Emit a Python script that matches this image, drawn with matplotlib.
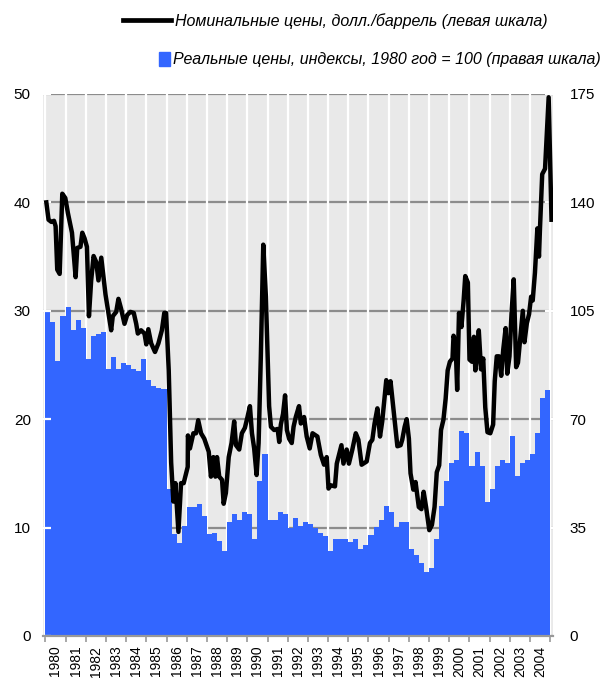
import numpy as np
import matplotlib
matplotlib.use("Agg")
import matplotlib.pyplot as plt
from matplotlib.lines import Line2D
from matplotlib.patches import Rectangle

plt.rcParams['font.family'] = ['Liberation Sans', 'DejaVu Sans']

# ____Data________________________
years = list(range(1980, 2005))

# Real prices, index 1980 = 100 (right scale), quarterly
real_index = [
    104.7, 101.5, 88.9, 103.3,   # 1980
    106.2, 98.7, 102.0, 99.6,    # 1981
    89.4, 97.0, 97.5, 98.0,      # 1982
    86.1, 90.0, 86.1, 88.2,      # 1983
    87.5, 86.1, 85.6, 89.4,      # 1984
    82.6, 80.7, 80.2, 79.8,      # 1985
    47.6, 32.8, 30.1, 35.4,      # 1986
    41.5, 41.5, 42.7, 38.9,      # 1987
    32.8, 33.4, 30.7, 27.5,      # 1988
    36.9, 39.4, 37.5, 40.0,      # 1989
    39.4, 31.3, 50.1, 58.8,      # 1990
    37.5, 37.5, 40.0, 39.4,      # 1991
    35.0, 38.0, 35.4, 36.8,      # 1992
    36.2, 34.9, 33.3, 32.3,      # 1993
    27.5, 31.3, 31.3, 31.3,      # 1994
    30.2, 31.3, 28.1, 29.4,      # 1995
    32.6, 35.2, 37.5, 42.0,      # 1996
    40.0, 35.1, 36.8, 36.8,      # 1997
    28.1, 26.0, 23.7, 20.8,      # 1998
    22.1, 31.3, 41.9, 50.1,      # 1999
    56.0, 56.8, 66.2, 65.5,      # 2000
    54.9, 59.4, 54.9, 43.3,      # 2001
    47.5, 54.9, 56.8, 56.0,      # 2002
    64.5, 51.5, 56.0, 56.8,      # 2003
    58.8, 65.5, 76.9, 79.5,      # 2004
]

# Nominal prices, USD/barrel (left scale), dates as decimal years
nominal_date = [
    1980.05, 1980.16, 1980.30, 1980.43, 1980.51, 1980.59, 1980.71, 1980.84,
    1980.99, 1981.12, 1981.32, 1981.50, 1981.58, 1981.74, 1981.83, 1981.94,
    1982.06, 1982.16, 1982.27, 1982.39, 1982.52, 1982.63, 1982.77, 1982.90,
    1982.98, 1983.10, 1983.26, 1983.34, 1983.51, 1983.62, 1983.75, 1983.92,
    1984.05, 1984.21, 1984.38, 1984.50, 1984.58, 1984.74, 1984.91, 1985.00,
    1985.10, 1985.24, 1985.43, 1985.60, 1985.77, 1985.89, 1985.98, 1986.11,
    1986.23, 1986.34, 1986.44, 1986.59, 1986.72, 1986.85, 1987.05, 1987.06,
    1987.16, 1987.33, 1987.46, 1987.57, 1987.71, 1987.87, 1988.09, 1988.20,
    1988.32, 1988.42, 1988.50, 1988.61, 1988.75, 1988.83, 1988.94, 1989.08,
    1989.22, 1989.35, 1989.44, 1989.60, 1989.73, 1989.88, 1990.01, 1990.13,
    1990.23, 1990.34, 1990.46, 1990.56, 1990.67, 1990.79, 1990.92, 1991.08,
    1991.17, 1991.33, 1991.50, 1991.58, 1991.66, 1991.77, 1991.87, 1991.96,
    1992.07, 1992.20, 1992.29, 1992.40, 1992.56, 1992.65, 1992.81, 1992.94,
    1993.09, 1993.23, 1993.47, 1993.64, 1993.80, 1993.93, 1994.02, 1994.13,
    1994.34, 1994.43, 1994.66, 1994.76, 1994.92, 1995.03, 1995.20, 1995.37,
    1995.50, 1995.66, 1995.91, 1996.07, 1996.19, 1996.30, 1996.44, 1996.57,
    1996.68, 1996.80, 1996.88, 1996.98, 1997.09, 1997.26, 1997.43, 1997.59,
    1997.67, 1997.79, 1997.89, 1998.00, 1998.08, 1998.22, 1998.33, 1998.49,
    1998.62, 1998.73, 1998.85, 1999.01, 1999.14, 1999.27, 1999.38, 1999.50,
    1999.59, 1999.71, 1999.82, 1999.92, 2000.03, 2000.16, 2000.21, 2000.31,
    2000.39, 2000.48, 2000.60, 2000.71, 2000.79, 2000.92, 2001.00, 2001.12,
    2001.22, 2001.29, 2001.37, 2001.46, 2001.57, 2001.68, 2001.78, 2001.89,
    2002.03, 2002.17, 2002.25, 2002.35, 2002.46, 2002.57, 2002.67, 2002.79,
    2002.87, 2002.98, 2003.08, 2003.19, 2003.31, 2003.40, 2003.51, 2003.64,
    2003.72, 2003.84, 2003.95, 2004.05, 2004.13, 2004.24, 2004.36, 2004.44,
    2004.49, 2004.60, 2004.74, 2004.92, 2005.06,
]
nominal_price = [
    40.0, 38.4, 38.2, 38.3, 37.8, 33.8, 33.4, 40.8,
    40.4, 39.0, 37.2, 33.1, 35.8, 35.9, 37.2, 36.7,
    35.9, 29.5, 32.8, 35.05, 34.5, 32.8, 34.9, 32.8,
    31.5, 30.1, 28.2, 29.5, 29.9, 31.1, 30.2, 28.8,
    29.6, 29.9, 29.8, 28.8, 27.9, 28.2, 27.9, 26.9,
    28.3, 27.0, 26.2, 27.0, 28.2, 29.8, 29.8, 24.5,
    16.0, 12.4, 14.1, 9.6, 14.1, 14.1, 15.6, 18.5,
    17.3, 18.7, 18.7, 19.9, 18.7, 18.2, 17.0, 14.7,
    16.5, 14.7, 16.5, 14.7, 14.4, 12.2, 13.2, 16.5,
    17.8, 19.8, 17.6, 17.2, 18.7, 19.2, 20.2, 21.2,
    18.7, 17.3, 14.85, 17.8, 25.8, 36.1, 31.3, 21.2,
    19.3, 19.0, 19.1, 17.9, 19.5, 20.5, 22.2, 19.0,
    18.2, 17.8, 19.3, 20.2, 21.2, 19.6, 20.2, 18.4,
    17.3, 18.7, 18.4, 16.7, 15.8, 16.5, 13.6, 13.9,
    13.8, 15.9, 17.6, 15.9, 17.2, 15.9, 17.2, 18.7,
    18.1, 15.8, 16.1, 17.8, 18.1, 19.6, 21.0, 18.4,
    19.8, 22.1, 23.6, 22.4, 23.5, 20.5, 17.5, 17.6,
    18.1, 19.3, 20.0, 18.2, 15.0, 13.5, 14.2, 11.9,
    11.7, 13.3, 11.9, 9.76, 10.24, 11.9, 15.1, 15.75,
    19.0, 19.95, 21.9, 24.5, 25.3, 25.6, 27.7, 27.1,
    22.7, 29.8, 28.5, 30.95, 33.2, 32.6, 25.5, 25.3,
    27.6, 24.5, 25.8, 28.2, 24.6, 25.6, 21.1, 18.8,
    18.7, 19.5, 23.5, 25.8, 25.8, 24.0, 26.4, 28.4,
    24.2, 25.8, 29.7, 32.9, 24.8, 25.2, 27.4, 30.0,
    27.1, 28.85, 29.7, 31.3, 30.95, 33.5, 37.6, 35.0,
    37.6, 42.6, 43.1, 49.7, 38.4,
]

line_label = 'Номинальные цены, долл./баррель (левая шкала)'
bar_label = 'Реальные цены, индексы, 1980 год = 100 (правая шкала)'
bar_color = '#3366ff'

# ____Figure_____
fig = plt.figure(figsize=(6.03, 6.84), dpi=100)
ax = fig.add_axes([0.0718, 0.0702, 0.8448, 0.7924])
ax2 = ax.twinx()

# bars + background live on the right axis, line sits on top
ax.set_zorder(ax2.get_zorder() + 1)
ax.patch.set_visible(False)
ax2.patch.set_visible(True)
ax2.patch.set_facecolor('#e9e9e9')

quarters = np.repeat(years, 4) + np.tile([0, 0.25, 0.5, 0.75], len(years))
ax2.set_axisbelow(True)
ax2.vlines(years + [years[-1] + 1], 0, 175, color='white', lw=1.6, zorder=0.6)
ax2.bar(quarters, real_index, width=0.25, align='edge', color=bar_color,
        lw=0, zorder=1)
ax2.grid(axis='y', color='#8c8c8c', lw=1.6)

ax.plot(nominal_date, nominal_price, color='black', lw=3.2)

ax.set_xlim(1979.9, 2005.12)
ax.set_ylim(0, 50)
ax2.set_ylim(0, 175)
ax.set_yticks(range(0, 51, 10))
ax2.set_yticks(range(0, 176, 35))

ax.set_xticks(years + [years[-1] + 1])
ax.set_xticklabels([])
ax.set_xticks([y + 0.5 for y in years], minor=True)
ax.set_xticklabels([str(y) for y in years], minor=True, rotation=90,
                   fontsize=10)
ax.tick_params(axis='x', which='major', direction='out', length=4,
               width=1.2, color='#999999')
ax.tick_params(axis='x', which='minor', length=0, pad=7)

for a in (ax, ax2):
    a.tick_params(axis='y', direction='in', length=6, width=1.6,
                  color='white', labelsize=11)
    for side in ('top', 'left', 'right'):
        a.spines[side].set_visible(False)
    a.spines['bottom'].set_color('#999999')
    a.spines['bottom'].set_linewidth(1.5)
ax.tick_params(axis='y', pad=9)
ax2.tick_params(axis='y', pad=12)

# ____Legend at the top_____
fig.add_artist(Line2D([0.204, 0.284], [0.971, 0.971], color='black',
                      lw=3.4, transform=fig.transFigure))
fig.text(0.291, 0.969, line_label, fontsize=11.5, style='italic',
         va='center', ha='left')
fig.add_artist(Rectangle((0.263, 0.9035), 0.0195, 0.0205, color=bar_color,
                         transform=fig.transFigure))
fig.text(0.287, 0.9137, bar_label, fontsize=11.5, style='italic',
         va='center', ha='left')

fig.savefig('out.png', dpi=100)
